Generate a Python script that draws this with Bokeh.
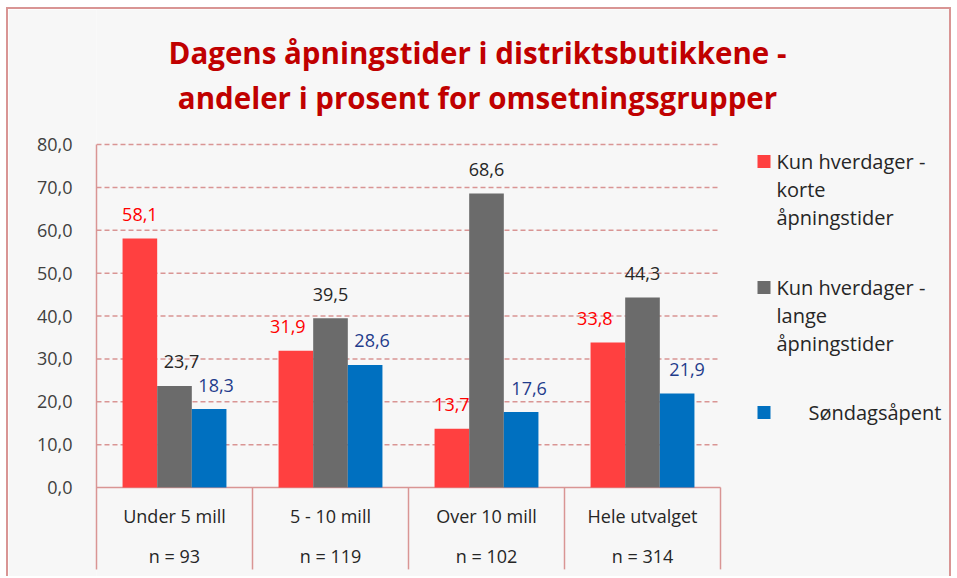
from bokeh.plotting import figure
from bokeh.models import Range1d, FixedTicker, ColumnDataSource
from bokeh.core.properties import value
from bokeh.embed import file_html
from bokeh.resources import INLINE

# ---- data ----
categories = ["Under 5 mill", "5 - 10 mill", "Over 10 mill", "Hele utvalget"]
n_labels = ["n = 93", "n = 119", "n = 102", "n = 314"]
korte = [58.1, 31.9, 13.7, 33.8]
lange = [23.7, 39.5, 68.6, 44.3]
sondag = [18.3, 28.6, 17.6, 21.9]
y_ticks = [0, 10, 20, 30, 40, 50, 60, 70, 80]
y_tick_labels = ["0,0", "10,0", "20,0", "30,0", "40,0", "50,0", "60,0", "70,0", "80,0"]
title_lines = ["Dagens åpningstider i distriktsbutikkene -",
               "andeler i prosent for omsetningsgrupper"]
legend_lines = [["Kun hverdager -", "korte", "åpningstider"],
                ["Kun hverdager -", "lange", "åpningstider"],
                ["Søndagsåpent"]]

# ---- styles / layout (page pixels) ----
BG = "#f7f7f7"
ROSE = "#d99594"
bar_colors = ["#ff4040", "#6b6b6b", "#0070c0"]
label_colors = ["#ff0000", "#262626", "#1f3c8c"]
label_dx = [[0, -8, 0, -13], [7, 0, 0, 0], [7, 7, 8, 10]]  # label nudges (px)
FONT = "Open Sans"
BAR_W = 0.222
W, H = 945, 569
CANVAS_X, CANVAS_Y = 8, 9          # page position of the canvas origin
AX_X, AX_RIGHT = 96, 720           # page x of category 0 and 4
ZERO_Y, TOP_Y = 487, 144           # page y of 0 and 80
PX_X = (AX_RIGHT - AX_X) / 4
PX_Y = (ZERO_Y - TOP_Y) / 80
BOX_BOTTOM = -19.1


def dx(px):
    return (px - AX_X) / PX_X


def dy(py):
    return (ZERO_Y - py) / PX_Y


p = figure(width=W, height=H, output_backend="svg", toolbar_location=None,
           title=None,
           x_range=Range1d(dx(AX_X), dx(CANVAS_X + W)),
           y_range=Range1d(dy(CANVAS_Y + H), dy(CANVAS_Y)),
           min_border_left=AX_X - CANVAS_X, min_border_right=0,
           min_border_top=0, min_border_bottom=0,
           background_fill_color=BG, border_fill_color=BG,
           outline_line_color=None,
           styles={"border": f"2px solid {ROSE}", "border-bottom": "none",
                   "margin-left": "6px", "margin-top": "7px"})

p.xaxis.visible = False
p.xgrid.visible = False
p.ygrid.visible = False
p.yaxis.ticker = FixedTicker(ticks=y_ticks)
p.yaxis.bounds = (BOX_BOTTOM, max(y_ticks))
p.yaxis.major_label_overrides = {t: l for t, l in zip(y_ticks, y_tick_labels)}
p.yaxis.major_tick_line_color = None
p.yaxis.minor_tick_line_color = None
p.yaxis.axis_line_color = ROSE
p.yaxis.axis_line_width = 1.5
p.yaxis.major_label_text_font = FONT
p.yaxis.major_label_text_font_size = "18px"
p.yaxis.major_label_text_color = "#404040"
p.yaxis.major_label_standoff = 18

n_cat = len(categories)
# dashed gridlines
gl = y_ticks[1:]
p.segment(x0=[0] * len(gl), y0=gl, x1=[n_cat] * len(gl), y1=gl,
          line_color=ROSE, line_width=1.5, line_dash="5 3")
# category box: baseline and separators
p.segment(x0=[0], y0=[0], x1=[n_cat], y1=[0], line_color=ROSE, line_width=1.5)
sep_x = list(range(1, n_cat + 1))
p.segment(x0=sep_x, y0=[0] * n_cat, x1=sep_x, y1=[BOX_BOTTOM] * n_cat,
          line_color=ROSE, line_width=1.5)

# bars + value labels
series = [korte, lange, sondag]
offsets = [-BAR_W, 0, BAR_W]
for vals, col, lcol, off, ndx in zip(series, bar_colors, label_colors, offsets, label_dx):
    xs = [i + 0.5 + off for i in range(n_cat)]
    src = ColumnDataSource(dict(x=xs, top=vals,
                                lx=[x + d / PX_X for x, d in zip(xs, ndx)],
                                lab=[f"{v:.1f}".replace(".", ",") for v in vals]))
    p.vbar(x="x", top="top", bottom=0, width=BAR_W, source=src,
           fill_color=col, line_color=None)
    p.text(x="lx", y="top", text="lab", source=src, text_align="center",
           text_baseline="middle", y_offset=-24, text_color=lcol,
           text_font=value(FONT), text_font_size="18px")

# category labels
cat_src = ColumnDataSource(dict(x=[i + 0.5 for i in range(n_cat)],
                                c=categories, n=n_labels))
p.text(x="x", y=dy(515), text="c", source=cat_src, text_align="center",
       text_baseline="middle", text_color="#262626", text_font=value(FONT),
       text_font_size="18px")
p.text(x="x", y=dy(555), text="n", source=cat_src, text_align="center",
       text_baseline="middle", text_color="#262626", text_font=value(FONT),
       text_font_size="18px")

# title
p.text(x=[dx(477)] * 2, y=[dy(52), dy(97)], text=title_lines, text_align="center",
       text_baseline="middle", text_color="#c00000", text_font=value(FONT),
       text_font_style="bold", text_font_size="29.5px")

# legend
entry_py = [[161, 189, 217], [287, 315, 343], [412]]
entry_px = [776, 776, 808]
p.scatter(x=[dx(763.5)] * 3, y=[dy(ys[0]) for ys in entry_py], marker="square",
          size=13, fill_color=bar_colors, line_color=None)
lx, ly, lt = [], [], []
for lines, ys, tx in zip(legend_lines, entry_py, entry_px):
    for t, py in zip(lines, ys):
        lx.append(dx(tx))
        ly.append(dy(py))
        lt.append(t)
p.text(x=lx, y=ly, text=lt, text_align="left", text_baseline="middle",
       text_color="#262626", text_font=value(FONT), text_font_size="20px")

open("out.html", "w").write(file_html(p, INLINE))
